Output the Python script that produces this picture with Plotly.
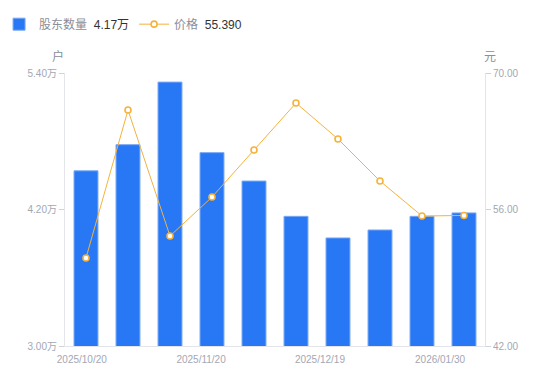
import plotly.graph_objects as go

dates = ["2025/10/20", "2025/10/31", "2025/11/10", "2025/11/20", "2025/11/28",
         "2025/12/10", "2025/12/19", "2025/12/31", "2026/01/20", "2026/01/30"]
holders = [4.54, 4.77, 5.32, 4.70, 4.45, 4.14, 3.95, 4.02, 4.14, 4.17]  # 万户
price = [51.03, 66.20, 53.28, 57.28, 62.10, 66.92, 63.23, 58.92, 55.33, 55.39]

x_tick_labels = ["2025/10/20", "2025/11/20", "2025/12/19", "2026/01/30"]
left_ticks = [3.00, 4.20, 5.40]
right_ticks = [42.00, 56.00, 70.00]

FONT = "Liberation Sans, Arial, Noto Sans CJK SC, sans-serif"
TICK_COLOR = "#a3a7b4"
AXIS_COLOR = "#e3e5ea"
LABEL_COLOR = "#8a8e99"

xpos = list(range(len(dates)))
x_tick_pos = [-0.1, 2.74, 5.57, 8.43]

fig = go.Figure()
fig.add_trace(go.Bar(
    x=xpos, y=holders, customdata=dates,
    name=f"股东数量  <span style='color:#333333'>{holders[-1]:.2f}万</span>",
    marker=dict(color="#2878f5", line=dict(color="#79a9f5", width=1)),
    width=0.57, yaxis="y",
))
fig.add_trace(go.Scatter(
    x=xpos, y=price, customdata=dates, mode="lines+markers",
    name=f"价格  <span style='color:#333333'>{price[-1]:.3f}</span>",
    line=dict(color="#f6b23a", width=1),
    marker=dict(symbol="circle", size=6, color="white",
                line=dict(color="#f6b23a", width=1.6)),
    yaxis="y2",
))

fig.update_layout(
    width=542, height=373,
    margin=dict(l=57, r=65, t=65, b=35, autoexpand=False),
    plot_bgcolor="white", paper_bgcolor="white",
    font=dict(family=FONT, size=10, color=TICK_COLOR),
    showlegend=True,
    legend=dict(orientation="h", x=-0.157, y=1.232, xanchor="left", yanchor="top",
                font=dict(size=12, color=LABEL_COLOR, family=FONT),
                itemwidth=30, traceorder="normal"),
    bargap=0.43,
    xaxis=dict(range=[-0.5, 9.5], tickvals=x_tick_pos, ticktext=x_tick_labels,
               showgrid=False, zeroline=False, showline=True, linecolor=AXIS_COLOR,
               linewidth=1, ticks="", ticklabelstandoff=4,
               tickfont=dict(size=10, color=TICK_COLOR)),
    yaxis=dict(range=[3.0, 5.4], tickvals=left_ticks,
               ticktext=[f"{v:.2f}万" for v in left_ticks],
               showgrid=False, zeroline=False, showline=True, linecolor=AXIS_COLOR,
               ticks="outside", ticklen=5, tickcolor="#cfd2da",
               tickfont=dict(size=10, color=TICK_COLOR)),
    yaxis2=dict(range=[42, 70], tickvals=right_ticks,
                ticktext=[f"{v:.2f}" for v in right_ticks],
                overlaying="y", side="right",
                showgrid=False, zeroline=False, showline=True, linecolor=AXIS_COLOR,
                ticks="outside", ticklen=5, tickcolor="#cfd2da",
                tickfont=dict(size=10, color=TICK_COLOR)),
    annotations=[
        dict(text="户", xref="paper", yref="paper", x=-0.017, y=1.059,
             xanchor="center", yanchor="middle",
             showarrow=False, font=dict(size=12, color=LABEL_COLOR, family=FONT)),
        dict(text="元", xref="paper", yref="paper", x=1.012, y=1.059,
             xanchor="center", yanchor="middle",
             showarrow=False, font=dict(size=12, color=LABEL_COLOR, family=FONT)),
    ],
)

fig.write_html("out.html")
